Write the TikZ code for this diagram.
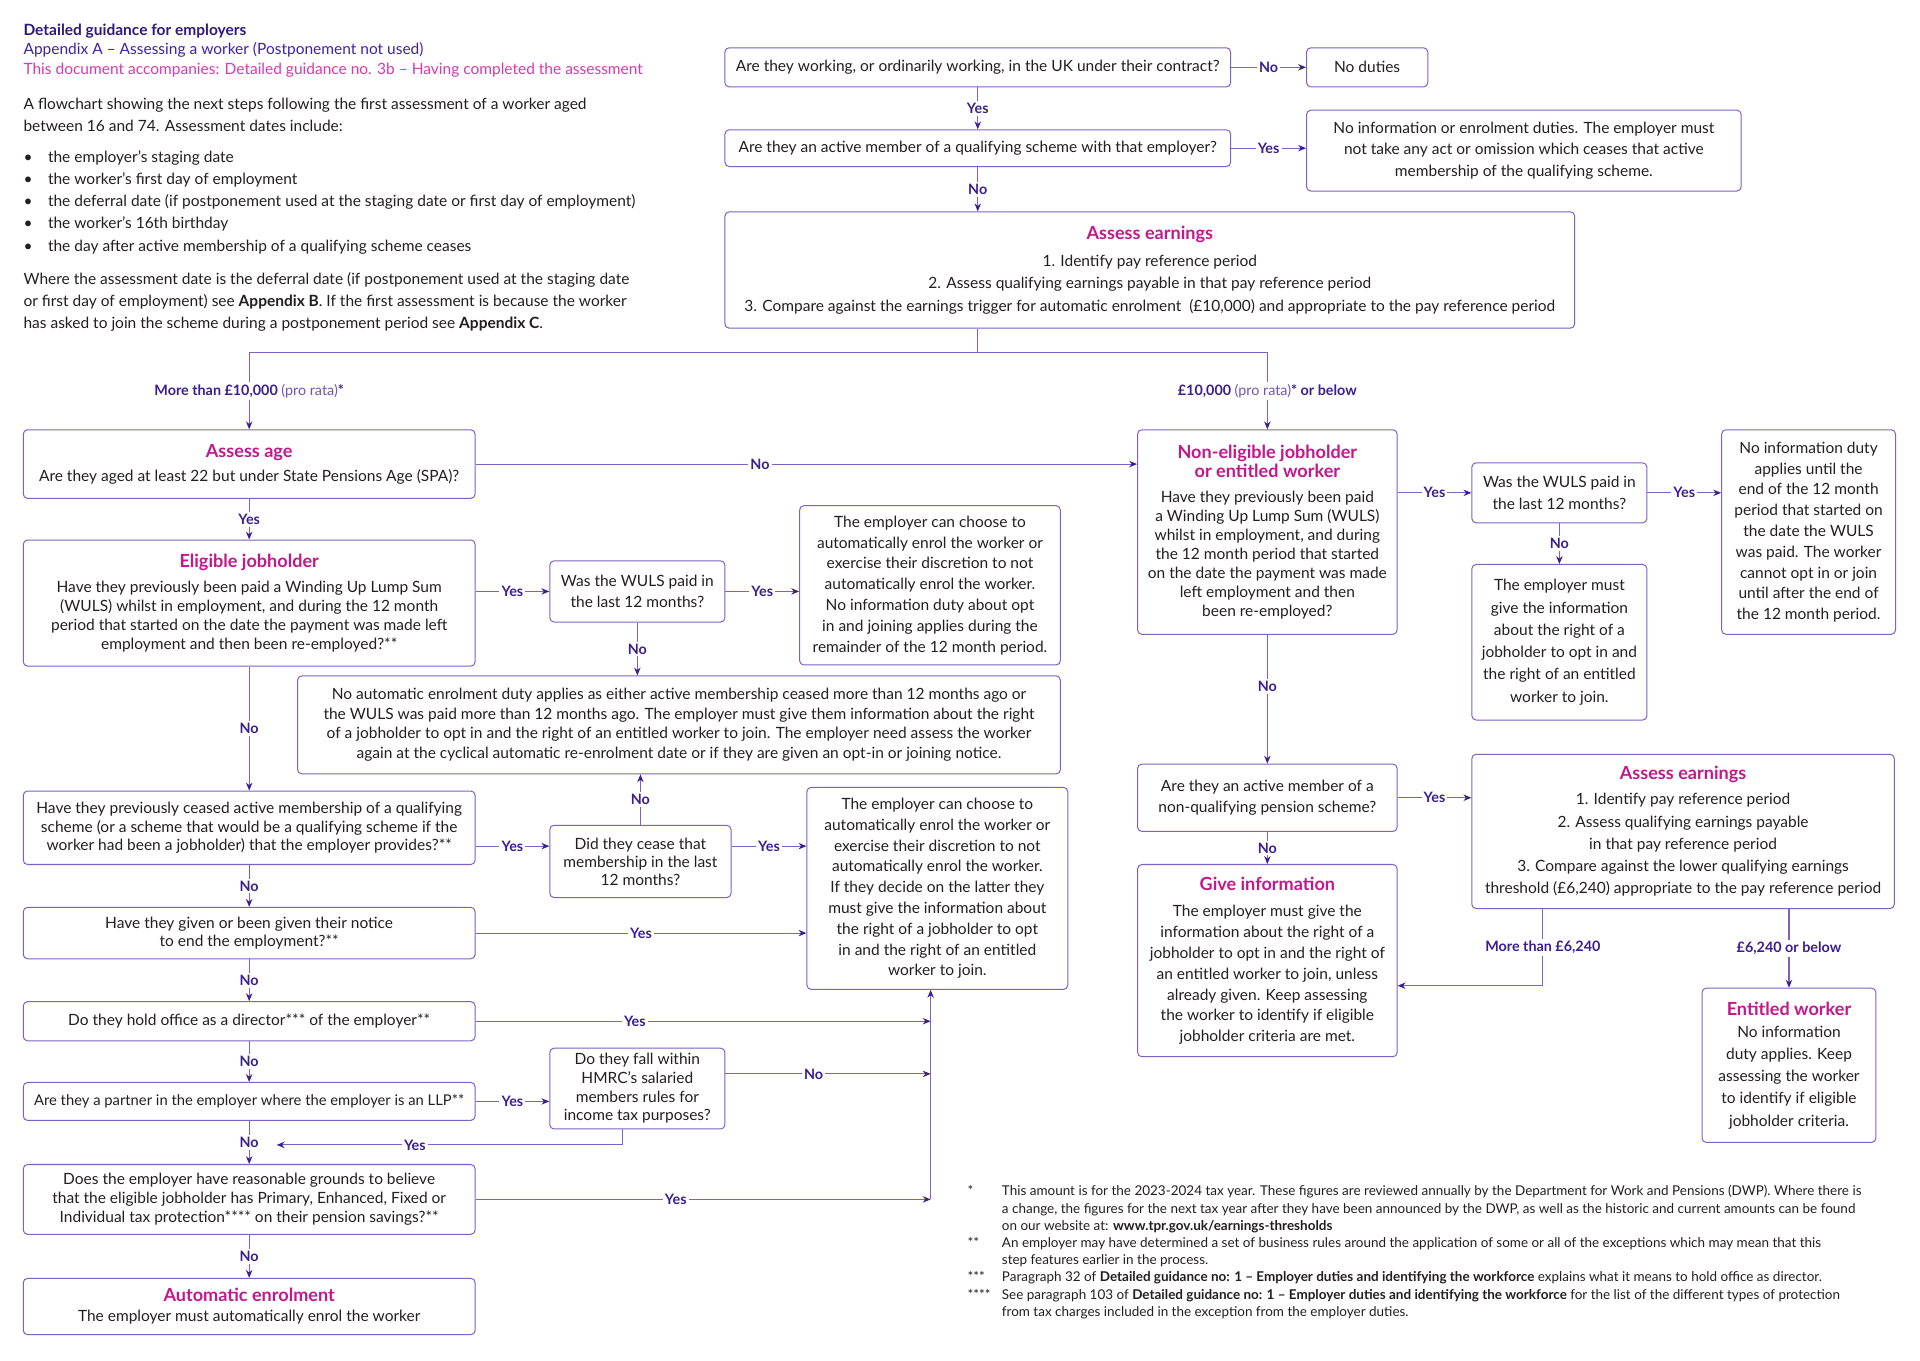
\documentclass[tikz,border=0pt]{standalone}
\usepackage{fontspec}
\setmainfont{Lato}
\usepackage{xcolor}
\usetikzlibrary{arrows.meta}
\definecolor{bline}{HTML}{7D62C4}
\definecolor{dk}{HTML}{3B1F8E}
\definecolor{mag}{HTML}{C2188C}
\definecolor{pnk}{HTML}{D63AB0}
\definecolor{ttl}{HTML}{2E1A7E}
\definecolor{ind}{HTML}{3F22A6}
\definecolor{pro}{HTML}{6F55B8}
\definecolor{ink}{HTML}{231F20}
\newcommand\hd[1]{{\fontsize{12.6}{14}\selectfont\bfseries\color{mag}#1}}

\begin{document}
\begin{tikzpicture}[x=0.3mm,y=-0.3mm,
    box/.style={draw=bline,line width=0.7pt,rounded corners=3pt,align=center,inner sep=0pt,text=ink,font=\fontsize{10.8}{13.4}\selectfont},
    sp/.style={font=\fontsize{10.8}{#1}\selectfont},
    wh/.style 2 args={minimum width=#1*0.3mm,minimum height=#2*0.3mm},
    lab/.style={fill=white,inner sep=1.5pt,text=dk,font=\fontsize{10}{11}\selectfont\bfseries},
    arr/.style={draw=bline,line width=0.7pt,-{Stealth[length=5.5pt,width=4.5pt,color=dk]}},
    line/.style={draw=bline,line width=0.7pt},
    txt/.style={anchor=north west,align=left,inner sep=0pt,text=ink}]
    \fill[white] (0,0) rectangle (1568,1111);
    \useasboundingbox (0,0) rectangle (1568,1111);

    \node[txt,font=\fontsize{10.8}{13.6}\selectfont] (title) at (19,19) {\textbf{\color{ttl}Detailed guidance for employers}\\
        {\color{ind}Appendix A – Assessing a worker (Postponement not used)}\\
        {\color{pnk}This document accompanies: Detailed guidance no. 3b – Having completed the assessment}};
    \node[txt,font=\fontsize{10.8}{15.3}\selectfont] (intro) at (19,80) {A flowchart showing the next steps following the first assessment of a worker aged\\
        between 16 and 74. Assessment dates include:};
    \node[txt,font=\fontsize{10.8}{15.5}\selectfont] (dates) at (19,122.5) {\makebox[6mm][l]{•}the employer's staging date\\
        \makebox[6mm][l]{•}the worker's first day of employment\\
        \makebox[6mm][l]{•}the deferral date (if postponement used at the staging date or first day of employment)\\
        \makebox[6mm][l]{•}the worker's 16th birthday\\
        \makebox[6mm][l]{•}the day after active membership of a qualifying scheme ceases};
    \node[txt,font=\fontsize{10.8}{15.3}\selectfont] (where) at (19,222) {Where the assessment date is the deferral date (if postponement used at the staging date\\
        or first day of employment) see \textbf{Appendix B}. If the first assessment is because the worker\\
        has asked to join the scheme during a postponement period see \textbf{Appendix C}.};

    \node[box,wh={413}{32}] (work) at (798.5,55) {Are they working, or ordinarily working, in the UK under their contract?};
    \node[box,wh={99}{32}] (nodut) at (1116.5,55) {No duties};
    \node[box,wh={413}{30}] (qual) at (798.5,121) {Are they an active member of a qualifying scheme with that employer?};
    \node[box,sp=15pt,wh={355}{66}] (noinfo) at (1244.5,123) {No information or enrolment duties. The employer must\\ not take any act or omission which ceases that active\\ membership of the qualifying scheme.};
    \node[box,sp=15.6pt,wh={694}{95}] (earn) at (939,220.5) {\hd{Assess earnings}\\[3pt]
        1. Identify pay reference period\\
        2. Assess qualifying earnings payable in that pay reference period\\
        3. Compare against the earnings trigger for automatic enrolment~ (£10,000) and appropriate to the pay reference period};

    \node[box,sp=15pt,wh={369}{56}] (age) at (203.5,379) {\hd{Assess age}\\[2pt] Are they aged at least 22 but under State Pensions Age (SPA)?};
    \node[box,wh={369}{103}] (elig) at (203.5,492.5) {\hd{Eligible jobholder}\\[4pt]
        Have they previously been paid a Winding Up Lump Sum\\
        (WULS) whilst in employment, and during the 12 month\\
        period that started on the date the payment was made left\\
        employment and then been re-employed?**};
    \node[box,sp=15pt,wh={143}{50}] (wuls) at (520.5,483) {Was the WULS paid in\\ the last 12 months?};
    \node[box,sp=14.5pt,wh={213}{130}] (choose) at (759.5,478) {The employer can choose to\\ automatically enrol the worker or\\ exercise their discretion to not\\ automatically enrol the worker.\\ No information duty about opt\\ in and joining applies during the\\ remainder of the 12 month period.};
    \node[box,sp=13.6pt,wh={623}{80}] (noauto) at (554.5,592) {No automatic enrolment duty applies as either active membership ceased more than 12 months ago or\\
        the WULS was paid more than 12 months ago. The employer must give them information about the right\\
        of a jobholder to opt in and the right of an entitled worker to join. The employer need assess the worker\\
        again at the cyclical automatic re-enrolment date or if they are given an opt-in or joining notice.};
    \node[box,sp=13.2pt,wh={369}{60}] (ceased) at (203.5,676) {Have they previously ceased active membership of a qualifying\\ scheme (or a scheme that would be a qualifying scheme if the\\ worker had been a jobholder) that the employer provides?**};
    \node[box,sp=12.5pt,wh={148}{59}] (last) at (523,703.5) {Did they cease that\\ membership in the last\\ 12 months?};
    \node[box,sp=14.5pt,wh={213}{165}] (choose2) at (765.5,725.5) {The employer can choose to\\ automatically enrol the worker or\\ exercise their discretion to not\\ automatically enrol the worker.\\ If they decide on the latter they\\ must give the information about\\ the right of a jobholder to opt\\ in and the right of an entitled\\ worker to join.};
    \node[box,sp=13pt,wh={369}{42}] (notice) at (203.5,762) {Have they given or been given their notice\\ to end the employment?**};
    \node[box,wh={369}{32}] (dir) at (203.5,834) {Do they hold office as a director*** of the employer**};
    \node[box,wh={369}{31},font=\fontsize{10.3}{13}\selectfont] (llp) at (203.5,899.5) {Are they a partner in the employer where the employer is an LLP**};
    \node[box,sp=13pt,wh={143}{66}] (hmrc) at (520.5,889) {Do they fall within\\ HMRC's salaried\\ members rules for\\ income tax purposes?};
    \node[box,sp=13.2pt,wh={369}{57}] (prot) at (203.5,979.5) {Does the employer have reasonable grounds to believe\\ that the eligible jobholder has Primary, Enhanced, Fixed or\\ Individual tax protection**** on their pension savings?**};
    \node[box,sp=14pt,wh={369}{46}] (auto) at (203.5,1067) {\hd{Automatic enrolment}\\ The employer must automatically enrol the worker};

    \node[box,sp=13.2pt,wh={212}{167}] (nonel) at (1035,434.5) {\hd{Non-eligible jobholder}\\ \hd{or entitled worker}\\[4pt]
        Have they previously been paid\\ a Winding Up Lump Sum (WULS)\\ whilst in employment, and during\\ the 12 month period that started\\ on the date the payment was made\\ left employment and then\\ been re-employed?};
    \node[box,sp=15pt,wh={143}{49}] (wuls2) at (1273.5,402.5) {Was the WULS paid in\\ the last 12 months?};
    \node[box,sp=14.5pt,wh={142}{167}] (until) at (1477,434.5) {No information duty\\ applies until the\\ end of the 12 month\\ period that started on\\ the date the WULS\\ was paid. The worker\\ cannot opt in or join\\ until after the end of\\ the 12 month period.};
    \node[box,sp=15.5pt,wh={143}{127}] (mustgive) at (1273.5,524.5) {The employer must\\ give the information\\ about the right of a\\ jobholder to opt in and\\ the right of an entitled\\ worker to join.};
    \node[box,sp=14.5pt,wh={212}{55}] (nonq) at (1035,651.5) {Are they an active member of a\\ non-qualifying pension scheme?};
    \node[box,sp=15.5pt,wh={345}{126}] (earn2) at (1374.5,679) {\hd{Assess earnings}\\[2pt]
        1. Identify pay reference period\\
        2. Assess qualifying earnings payable\\
        in that pay reference period\\
        3. Compare against the lower qualifying earnings\\
        threshold (£6,240) appropriate to the pay reference period};
    \node[box,sp=14.5pt,wh={212}{157}] (give) at (1035,784.5) {\hd{Give information}\\[4pt]
        The employer must give the\\ information about the right of a\\ jobholder to opt in and the right of\\ an entitled worker to join, unless\\ already given. Keep assessing\\ the worker to identify if eligible\\ jobholder criteria are met.};
    \node[box,sp=15.5pt,wh={142}{126}] (entit) at (1461,870) {\hd{Entitled worker}\\
        No information\\ duty applies. Keep\\ assessing the worker\\ to identify if eligible\\ jobholder criteria.};

    \node[txt,font=\fontsize{9.4}{12}\selectfont] (notes) at (790,966.5) {\begin{tabular}{@{}p{8.4mm}@{}l@{}}
        {*} & This amount is for the 2023-2024 tax year. These figures are reviewed annually by the Department for Work and Pensions (DWP). Where there is\\
          & a change, the figures for the next tax year after they have been announced by the DWP, as well as the historic and current amounts can be found\\
          & on our website at: \textbf{www.tpr.gov.uk/earnings-thresholds}\\
        {**} & An employer may have determined a set of business rules around the application of some or all of the exceptions which may mean that this\\
          & step features earlier in the process.\\
        {***} & Paragraph 32 of \textbf{Detailed guidance no: 1 – Employer duties and identifying the workforce} explains what it means to hold office as director.\\
        {****} & See paragraph 103 of \textbf{Detailed guidance no: 1 – Employer duties and identifying the workforce} for the list of the different types of protection\\
          & from tax charges included in the exception from the employer duties.
        \end{tabular}};

    \coordinate (split) at (798.5,288);
    \coordinate (hb) at (508,935);
    \coordinate (he) at (226,935);
    \coordinate (gi) at (1260,805);
    \coordinate (vj) at (760,808);

    \draw[arr] (work) -- node[lab]{No} (nodut);
    \draw[arr] (work) -- node[lab]{Yes} (qual);
    \draw[arr] (qual.east) -- node[lab]{Yes} (qual.east -| noinfo.west);
    \draw[arr] (qual) -- node[lab]{No} (qual |- earn.north);
    \draw[line] (earn.south -| split) -- (split);
    \draw[arr] (split) -| node[lab,pos=0.75]{More than £10,000 \textmd{\color{pro}(pro rata)}*} (age.north);
    \draw[arr] (split) -| node[lab,pos=0.75]{£10,000 \textmd{\color{pro}(pro rata)}* or below} (nonel.north);

    \draw[arr] (age.east) -- node[lab,pos=0.43]{No} (age.east -| nonel.west);
    \draw[arr] (age) -- node[lab]{Yes} (elig);
    \draw[arr] (elig.east |- wuls.west) -- node[lab]{Yes} (wuls.west);
    \draw[arr] (wuls.east) -- node[lab]{Yes} (wuls.east -| choose.west);
    \draw[arr] (wuls) -- node[lab]{No} (wuls |- noauto.north);
    \draw[arr] (elig) -- node[lab]{No} (ceased);
    \draw[arr] (ceased.east |- 0,691) -- node[lab]{Yes} (last.west |- 0,691);
    \draw[arr] (last) -- node[lab]{No} (last |- noauto.south);
    \draw[arr] (last.east |- 0,691) -- node[lab]{Yes} (choose2.west |- 0,691);
    \draw[arr] (ceased) -- node[lab]{No} (notice);
    \draw[arr] (notice.east) -- node[lab]{Yes} (notice.east -| choose2.west);
    \draw[arr] (notice) -- node[lab]{No} (dir);
    \draw[arr] (dir.east) -- node[lab,pos=0.35]{Yes} (dir.east -| vj);
    \draw[arr] (dir) -- node[lab]{No} (llp);
    \draw[arr] (llp.east) -- node[lab]{Yes} (llp.east -| hmrc.west);
    \draw[arr] (hmrc.east |- 0,877) -- node[lab,pos=0.43]{No} (vj |- 0,877);
    \draw[arr] (hmrc.south -| hb) -- (hb) -- node[lab,pos=0.6]{Yes} (he);
    \draw[arr] (llp) -- node[lab]{No} (prot);
    \draw[arr] (prot.east) -- node[lab,pos=0.44]{Yes} (prot.east -| vj);
    \draw[arr] (prot.east -| vj) -- (choose2.south -| vj);
    \draw[arr] (prot) -- node[lab]{No} (auto);

    \draw[arr] (nonel.east |- wuls2.west) -- node[lab]{Yes} (wuls2.west);
    \draw[arr] (wuls2.east) -- node[lab]{Yes} (wuls2.east -| until.west);
    \draw[arr] (wuls2) -- node[lab]{No} (mustgive);
    \draw[arr] (nonel) -- node[lab,pos=0.4]{No} (nonq);
    \draw[arr] (nonq.east) -- node[lab]{Yes} (nonq.east -| earn2.west);
    \draw[arr] (nonq) -- node[lab]{No} (give);
    \draw[arr] (earn2.south -| gi) -- node[lab]{More than £6,240} (gi) -- (gi -| give.east);
    \draw[arr] (earn2.south -| entit.north) -- node[lab]{£6,240 or below} (entit.north);
\end{tikzpicture}
\end{document}
